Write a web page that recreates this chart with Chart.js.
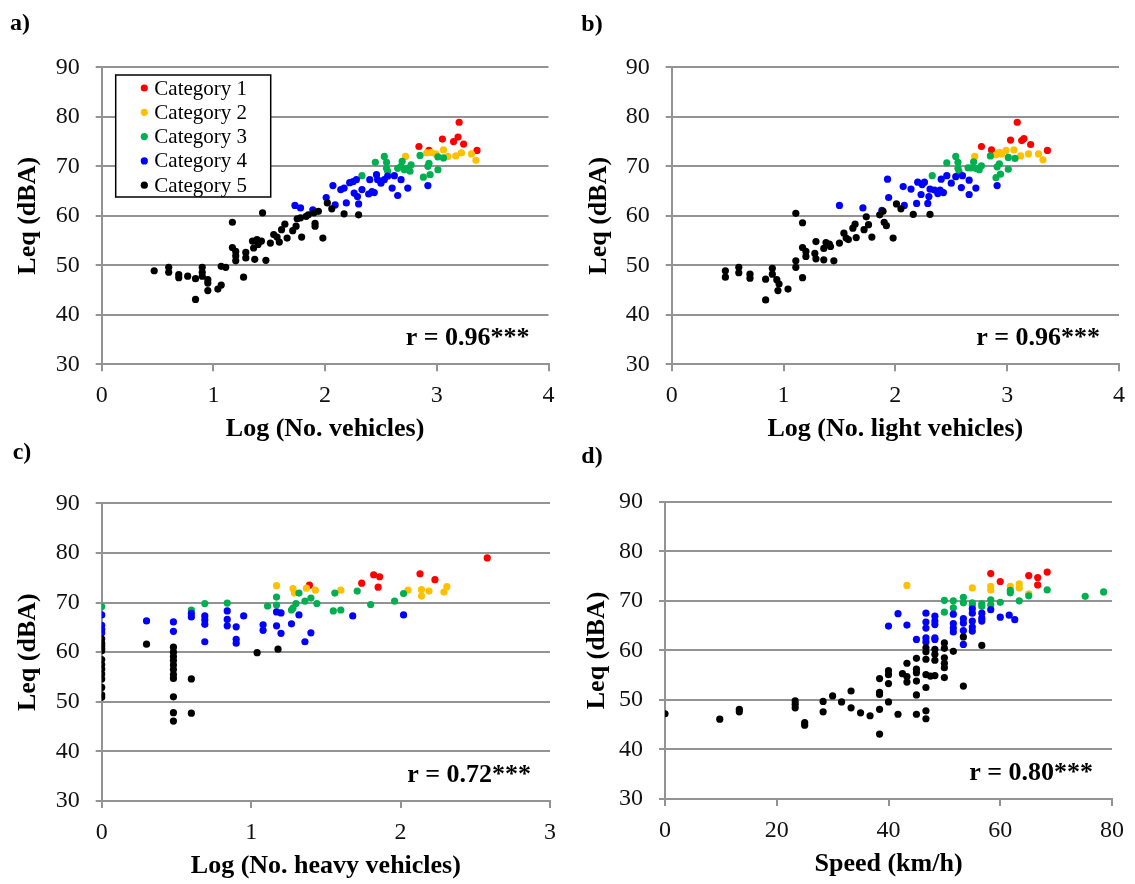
<!DOCTYPE html>
<html>
<head>
<meta charset="utf-8">
<title>Leq vs traffic</title>
<script src="https://cdn.jsdelivr.net/npm/chart.js@4.4.1/dist/chart.umd.min.js"></script>
<style>
  html, body { margin: 0; padding: 0; background: #fff; }
  #wrap { position: relative; width: 1135px; height: 884px; overflow: hidden; }
  #wrap canvas { position: absolute; }
  .tag { position: absolute; font: bold 24px 'Liberation Serif', 'Times New Roman', serif; line-height: 1; transform: translate(-50%, -50%); color: #000; }
</style>
</head>
<body>
<div id="wrap">
  <canvas id="chartA" width="567" height="450" style="left:0;top:0"></canvas>
  <canvas id="chartB" width="568" height="450" style="left:567px;top:0"></canvas>
  <canvas id="chartC" width="567" height="444" style="left:0;top:440px"></canvas>
  <canvas id="chartD" width="568" height="444" style="left:567px;top:440px"></canvas>
  <div class="tag" style="left:20px;top:22px">a)</div>
  <div class="tag" style="left:592px;top:23px">b)</div>
  <div class="tag" style="left:22px;top:451px">c)</div>
  <div class="tag" style="left:592px;top:455px">d)</div>
</div>
<script>
const categories = ['Category 1', 'Category 2', 'Category 3', 'Category 4', 'Category 5'];
const catColors = ['#ff0000', '#ffc000', '#00b050', '#0000ff', '#000000'];
const leqRange = [30, 90, 10];

// a) Log (No. vehicles)
const allVeh1 = [[2.84,74.0],[2.93,73.2],[3.05,75.5],[3.15,75.0],[3.19,75.9],[3.20,78.9],[3.24,74.5],[3.36,73.2]];
const allVeh2 = [[2.72,72.0],[2.91,72.7],[2.95,72.8],[2.99,72.5],[3.06,73.3],[3.10,72.0],[3.17,72.1],[3.22,72.7],[3.31,72.5],[3.35,71.2]];
const allVeh3 = [[2.33,68.1],[2.45,70.8],[2.53,72.0],[2.55,70.8],[2.55,69.6],[2.56,69.0],[2.65,69.6],[2.68,70.0],[2.69,71.0],[2.71,69.3],[2.74,69.6],[2.76,69.0],[2.77,70.3],[2.85,72.2],[2.88,67.8],[2.92,70.0],[2.93,70.6],[2.94,68.3],[3.01,69.3],[3.01,71.9],[3.06,71.7]];
const allVeh4 = [[1.73,62.1],[1.78,61.6],[1.89,61.2],[2.01,63.7],[2.07,66.1],[2.09,62.2],[2.14,65.3],[2.17,65.6],[2.19,62.6],[2.22,66.7],[2.25,66.9],[2.26,64.6],[2.28,67.3],[2.29,63.9],[2.30,62.4],[2.33,65.3],[2.40,67.3],[2.39,64.4],[2.42,64.9],[2.44,64.7],[2.46,68.3],[2.47,67.3],[2.50,66.6],[2.53,67.3],[2.56,68.0],[2.60,65.6],[2.62,68.1],[2.65,64.1],[2.68,67.3],[2.74,65.6],[2.92,66.1]];
const allVeh5 = [[0.47,48.9],[0.60,49.6],[0.60,48.6],[0.69,48.1],[0.69,47.5],[0.77,47.8],[0.84,47.3],[0.84,43.1],[0.90,49.6],[0.90,48.6],[0.90,47.8],[0.95,47.1],[0.95,46.4],[0.95,44.9],[1.04,45.2],[1.07,46.0],[1.07,49.8],[1.11,49.6],[1.17,58.7],[1.17,53.6],[1.20,52.8],[1.20,51.9],[1.20,50.9],[1.27,47.6],[1.29,52.6],[1.29,51.5],[1.35,54.9],[1.36,53.5],[1.37,51.2],[1.39,55.2],[1.40,54.2],[1.44,60.6],[1.43,54.9],[1.47,51.0],[1.51,54.5],[1.54,56.2],[1.57,55.7],[1.59,54.7],[1.61,57.2],[1.64,58.3],[1.66,55.5],[1.71,57.0],[1.74,57.9],[1.75,59.4],[1.78,59.6],[1.79,55.7],[1.83,59.9],[1.85,60.2],[1.90,60.6],[1.91,58.5],[1.91,57.9],[1.94,60.9],[1.98,55.5],[2.02,62.6],[2.06,61.4],[2.17,60.4],[2.30,60.2]];

// b) Log (No. light vehicles)
const lightVeh1 = [[2.77,74.0],[2.86,73.3],[3.03,75.3],[3.13,75.2],[3.15,75.6],[3.09,78.9],[3.21,74.4],[3.36,73.2]];
const lightVeh2 = [[2.71,72.0],[2.90,72.3],[2.93,72.8],[2.95,72.5],[2.99,73.2],[3.06,73.3],[3.12,72.1],[3.19,72.5],[3.28,72.5],[3.32,71.3]];
const lightVeh3 = [[2.33,68.1],[2.46,70.7],[2.54,72.0],[2.56,70.8],[2.56,69.6],[2.57,68.9],[2.65,69.7],[2.68,69.7],[2.70,70.9],[2.72,69.6],[2.75,69.3],[2.77,70.1],[2.85,72.1],[2.90,67.7],[2.91,69.9],[2.93,70.5],[2.94,68.4],[3.01,69.4],[3.01,71.8],[3.07,71.6]];
const lightVeh4 = [[1.50,62.1],[1.71,61.6],[1.88,61.1],[1.93,67.4],[1.94,63.7],[2.07,65.9],[2.08,62.1],[2.14,65.4],[2.19,62.5],[2.20,66.8],[2.23,64.3],[2.24,66.3],[2.26,66.8],[2.29,62.5],[2.30,63.9],[2.31,65.4],[2.35,65.2],[2.38,64.5],[2.40,65.2],[2.43,64.7],[2.41,67.4],[2.46,68.1],[2.50,66.6],[2.54,67.9],[2.59,65.7],[2.60,68.1],[2.66,64.3],[2.66,67.2],[2.72,65.6],[2.91,66.1]];
const lightVeh5 = [[0.48,48.9],[0.48,47.6],[0.60,49.6],[0.60,48.5],[0.70,48.2],[0.70,47.4],[0.84,47.2],[0.84,43.0],[0.90,49.4],[0.90,48.2],[0.94,47.1],[0.96,46.2],[0.95,44.9],[1.04,45.2],[1.11,50.9],[1.11,49.6],[1.11,60.5],[1.17,58.6],[1.17,53.6],[1.20,52.8],[1.20,51.8],[1.17,47.5],[1.29,54.8],[1.28,52.4],[1.29,51.3],[1.36,53.4],[1.36,51.1],[1.38,54.6],[1.41,54.3],[1.42,53.8],[1.45,50.9],[1.50,54.5],[1.54,56.5],[1.56,55.5],[1.58,55.2],[1.62,57.5],[1.65,55.6],[1.64,58.3],[1.72,57.2],[1.74,59.8],[1.76,58.2],[1.79,55.7],[1.86,60.2],[1.89,60.9],[1.90,58.7],[1.92,58.0],[1.98,55.5],[2.01,62.4],[2.05,61.4],[2.16,60.3],[2.31,60.3]];

// c) Log (No. heavy vehicles)
const heavyVeh1 = [[1.39,73.5],[1.74,73.9],[1.82,75.6],[1.86,75.2],[1.85,73.1],[2.13,75.8],[2.23,74.6],[2.58,79.0]];
const heavyVeh2 = [[1.17,73.4],[1.28,72.8],[1.29,71.9],[1.37,72.9],[1.43,72.5],[1.60,72.5],[2.05,72.5],[2.14,72.6],[2.14,71.3],[2.19,72.3],[2.29,72.1],[2.31,73.2]];
const heavyVeh3 = [[0,69.2],[0.60,68.5],[0.69,69.8],[0.84,69.9],[1.11,69.3],[1.17,71.1],[1.17,69.5],[1.27,68.5],[1.28,68.9],[1.30,69.8],[1.32,71.9],[1.36,70.3],[1.40,70.9],[1.44,69.8],[1.55,68.3],[1.56,71.9],[1.60,68.5],[1.71,72.3],[1.80,69.6],[1.96,70.3],[2.02,71.8]];
const heavyVeh4 = [[0,67.5],[0,65.4],[0,64.6],[0,63.9],[0,61.3],[0.30,66.3],[0.48,66.1],[0.48,64.2],[0.60,67.8],[0.60,67.1],[0.69,67.3],[0.69,66.5],[0.69,65.6],[0.69,62.1],[0.84,68.3],[0.84,66.6],[0.84,65.3],[0.90,65.1],[0.90,62.6],[0.90,61.8],[0.95,67.3],[1.08,65.5],[1.08,64.4],[1.17,68.1],[1.17,65.3],[1.20,67.9],[1.20,63.8],[1.27,65.7],[1.32,67.5],[1.36,62.1],[1.40,63.9],[1.68,67.3],[2.02,67.5]];
const heavyVeh5 = [[0,62.7],[0,61.8],[0,60.8],[0,60.3],[0,58.5],[0,57.5],[0,56.6],[0,55.6],[0,54.6],[0,52.9],[0,51.4],[0,50.9],[0.30,61.6],[0.48,61.0],[0.48,60.0],[0.48,59.1],[0.48,58.3],[0.48,57.4],[0.48,56.5],[0.48,55.5],[0.48,54.7],[0.48,51.0],[0.48,47.8],[0.48,46.1],[0.60,54.6],[0.60,47.7],[1.04,59.9],[1.18,60.6]];

// d) Speed (km/h)
const speed1 = [[58.3,75.5],[60.0,73.9],[65.1,75.1],[66.7,74.7],[66.7,73.2],[68.4,75.8]];
const speed2 = [[43.3,73.1],[55.0,72.6],[58.3,72.9],[58.3,72.2],[61.8,72.9],[63.4,73.4],[63.4,72.6],[65.1,71.4]];
const speed3 = [[50.0,70.1],[50.0,67.7],[51.6,70.0],[51.6,68.6],[53.4,70.7],[53.4,69.6],[55.0,69.6],[55.0,69.1],[56.7,69.4],[56.7,68.9],[58.3,70.2],[58.3,69.2],[60.0,69.7],[61.8,72.1],[61.8,71.6],[63.4,70.0],[65.1,71.0],[68.4,72.2],[75.2,70.9],[78.5,71.8]];
const speed4 = [[40.0,64.9],[41.7,67.4],[43.3,65.1],[45.0,62.2],[46.7,67.5],[46.7,65.7],[46.7,64.5],[46.7,62.5],[46.7,61.7],[48.3,66.9],[48.3,65.9],[48.3,65.2],[48.3,62.5],[48.3,62.2],[51.6,67.3],[51.6,65.4],[51.6,64.5],[51.6,63.7],[53.4,66.4],[53.4,65.5],[53.4,64.0],[53.4,61.2],[55.0,68.4],[55.0,67.5],[55.0,65.9],[55.0,64.7],[55.0,63.9],[56.7,67.5],[56.7,66.5],[56.7,65.9],[58.3,68.2],[60.0,66.7],[61.6,67.1],[62.6,66.2]];
const speed5 = [[0,47.2],[9.8,46.1],[13.3,48.1],[13.3,47.6],[23.3,49.8],[23.3,49.1],[23.3,48.4],[25.0,45.4],[25.0,44.9],[28.3,49.7],[28.3,47.6],[30.0,50.8],[31.6,49.6],[33.3,51.8],[33.3,48.4],[35.0,47.4],[36.7,46.8],[38.4,54.3],[38.4,51.5],[38.4,51.1],[38.4,48.1],[38.4,43.1],[40.0,55.9],[40.0,55.1],[40.0,53.3],[40.0,49.6],[41.7,47.1],[42.5,55.3],[43.3,57.4],[43.3,54.7],[43.3,53.6],[45.0,58.4],[45.0,56.2],[45.0,55.5],[45.0,53.8],[45.0,51.0],[45.0,47.1],[46.7,60.5],[46.7,59.7],[46.7,58.2],[46.7,55.1],[46.7,52.5],[46.7,47.8],[46.7,46.2],[47.5,54.8],[48.3,60.2],[48.3,59.2],[48.3,58.0],[48.3,54.9],[50.0,61.5],[50.0,60.4],[50.0,58.5],[50.0,57.4],[50.0,56.5],[50.0,54.5],[51.6,59.8],[53.4,62.7],[53.4,52.8],[56.7,61.0]];

const FONT = "'Liberation Serif', 'Times New Roman', serif";
const GRID = '#939393';

// legend box drawn inside panel a
const boxLegend = {
    id: 'boxLegend',
    afterDraw: function(chart, args, opts) {
        if (!opts.show) return;
        const ctx = chart.ctx, area = chart.chartArea;
        const x = area.left + 14, y = area.top + 7.7;
        ctx.save();
        ctx.fillStyle = '#fff';
        ctx.fillRect(x, y, 155, 122);
        ctx.strokeStyle = '#000';
        ctx.lineWidth = 1.5;
        ctx.strokeRect(x, y, 155, 122);
        ctx.font = '21px ' + FONT;
        ctx.textBaseline = 'middle';
        categories.forEach(function(label, i) {
            const cy = y + 13 + i * 24.3;
            ctx.fillStyle = catColors[i];
            ctx.beginPath();
            ctx.arc(x + 28.6, cy, 3.6, 0, Math.PI * 2);
            ctx.fill();
            ctx.fillStyle = '#000';
            ctx.fillText(label, x + 38.6, cy + 1);
        });
        ctx.restore();
    }
};

// correlation note in lower right corner
const rNote = {
    id: 'rNote',
    afterDatasetsDraw: function(chart, args, opts) {
        const ctx = chart.ctx, area = chart.chartArea;
        ctx.save();
        ctx.font = 'bold 26px ' + FONT;
        ctx.fillStyle = '#000';
        ctx.textAlign = 'right';
        ctx.textBaseline = 'middle';
        ctx.fillText(opts.text, area.right - 19, area.bottom - 26);
        ctx.restore();
    }
};

const buildPanel = function(id, cfg) {
    // later categories are painted over earlier ones
    const datasets = cfg.series.map(function(points, i) {
        return {
            label: categories[i],
            data: points.map(function(p) { return {x: p[0], y: p[1]}; }),
            backgroundColor: catColors[i],
            borderWidth: 0,
            pointRadius: 3.6,
            pointHoverRadius: 3.6
        };
    }).reverse();

    new Chart(document.getElementById(id), {
        type: 'scatter',
        data: {datasets: datasets},
        plugins: [rNote, boxLegend],
        options: {
            responsive: false,
            animation: false,
            events: [],
            layout: {padding: cfg.padding},
            plugins: {
                legend: {display: false},
                tooltip: {enabled: false},
                rNote: {text: cfg.note},
                boxLegend: {show: !!cfg.legend}
            },
            scales: {
                x: {
                    type: 'linear',
                    min: cfg.xRange[0],
                    max: cfg.xRange[1],
                    ticks: {stepSize: cfg.xRange[2], color: '#111', padding: 10, font: {family: FONT, size: 24}},
                    grid: {drawOnChartArea: false, color: GRID, lineWidth: 2, tickLength: 7},
                    border: {color: GRID, width: 2},
                    title: {display: true, text: cfg.xTitle, color: '#000', padding: {top: 0, bottom: 0}, font: {family: FONT, size: 26, weight: 'bold'}},
                    afterFit: function(scale) { scale.height = 81; }
                },
                y: {
                    min: leqRange[0],
                    max: leqRange[1],
                    ticks: {stepSize: leqRange[2], color: '#111', padding: 16, font: {family: FONT, size: 24}},
                    grid: {color: GRID, lineWidth: 2, tickLength: 6},
                    border: {color: GRID, width: 2},
                    title: {display: true, text: 'Leq (dBA)', color: '#000', padding: {top: cfg.yTitlePad, bottom: 0}, font: {family: FONT, size: 26, weight: 'bold'}},
                    afterFit: function(scale) { scale.width = cfg.yWidth; }
                }
            }
        }
    });
};

buildPanel('chartA', {
    series: [allVeh1, allVeh2, allVeh3, allVeh4, allVeh5],
    xRange: [0, 4, 1], xTitle: 'Log (No. vehicles)', note: 'r = 0.96***', legend: true,
    yWidth: 101.7, yTitlePad: 12.9, padding: {left: 0, top: 67.3, right: 18.5, bottom: 4.7}
});
buildPanel('chartB', {
    series: [lightVeh1, lightVeh2, lightVeh3, lightVeh4, lightVeh5],
    xRange: [0, 4, 1], xTitle: 'Log (No. light vehicles)', note: 'r = 0.96***',
    yWidth: 104.7, yTitlePad: 16.4, padding: {left: 0, top: 67.3, right: 16, bottom: 4.7}
});
buildPanel('chartC', {
    series: [heavyVeh1, heavyVeh2, heavyVeh3, heavyVeh4, heavyVeh5],
    xRange: [0, 3, 1], xTitle: 'Log (No. heavy vehicles)', note: 'r = 0.72***',
    yWidth: 101.7, yTitlePad: 12.9, padding: {left: 0, top: 63.3, right: 17, bottom: 2}
});
buildPanel('chartD', {
    series: [speed1, speed2, speed3, speed4, speed5],
    xRange: [0, 80, 20], xTitle: 'Speed (km/h)', note: 'r = 0.80***',
    yWidth: 98, yTitlePad: 15.1, padding: {left: 0, top: 61.7, right: 23, bottom: 4}
});
</script>
</body>
</html>
